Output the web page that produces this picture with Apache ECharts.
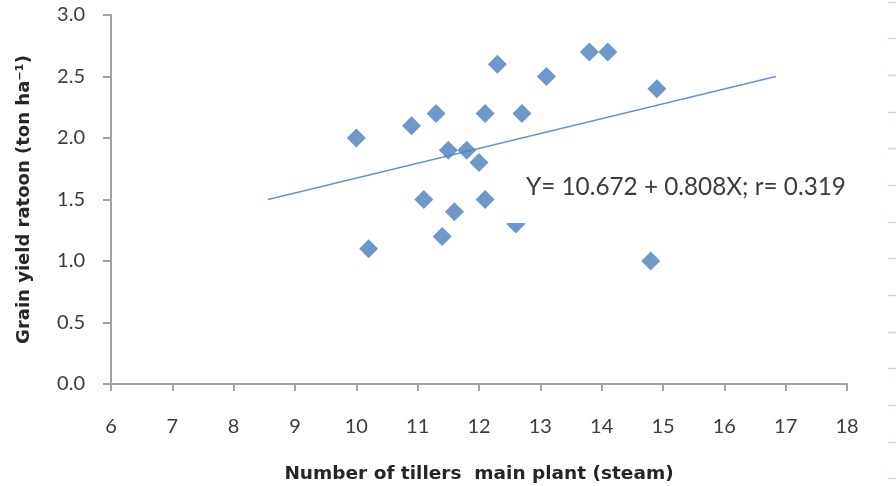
<!DOCTYPE html>
<html><head><meta charset="utf-8">
<script src="https://cdn.jsdelivr.net/npm/echarts@6/dist/echarts.min.js"></script>
<style>html,body{margin:0;padding:0;background:#fff}#c{width:896px;height:486px}</style>
</head><body><div id="c"></div>
<script>
// Data
const tillers    = [10.0, 10.2, 10.9, 11.3, 11.1, 11.5, 11.8, 11.6, 11.4, 12.0, 12.1, 12.1, 12.3, 12.6, 12.7, 13.1, 13.8, 14.1, 14.9, 14.8];
const grainYield = [2.0,  1.1,  2.1,  2.2,  1.5,  1.9,  1.9,  1.4,  1.2,  1.8,  2.2,  1.5,  2.6,  1.3,  2.2,  2.5,  2.7,  2.7,  2.4,  1.0];
const trendX = [8.56, 16.84];
const trendY = [1.5, 2.5];
const xTicks = [6, 18, 1];      // min, max, interval
const yTicks = [0, 3, 0.5];
const equationText = 'Y= 10.672 + 0.808X; r= 0.319';
const xAxisTitle = 'Number of tillers  main plant (steam)';
const yAxisTitle = 'Grain yield ratoon (ton ha\u207B\u00B9)';

const FONT = 'Lato, "Open Sans", sans-serif';
const TFONT = '"DejaVu Sans", "Open Sans", sans-serif';
const chart = echarts.init(document.getElementById('c'), null, {renderer: 'canvas'});

const pts = tillers.map((x, i) => [x, grainYield[i]]);
const trend = trendX.map((x, i) => [x, trendY[i]]);

const sideTicks = [];
for (let i = 0; i < 14; i++) {
  sideTicks.push({type: 'line', silent: true, z: 100,
    shape: {x1: 888, y1: 0, x2: 896, y2: 0},
    position: [0, Math.round(1.7 + 36.67 * i) + 0.5],
    style: {stroke: '#cdd4e3', lineWidth: 1.5}});
}

chart.setOption({
  animation: false,
  backgroundColor: '#ffffff',
  grid: {left: 111, right: 49, top: 15, bottom: 102, containLabel: false, outerBoundsMode: 'none'},
  xAxis: {
    type: 'value', min: xTicks[0], max: xTicks[1], interval: xTicks[2],
    name: xAxisTitle, nameLocation: 'middle', nameGap: 81,
    nameTextStyle: {fontFamily: TFONT, fontSize: 18.5, fontWeight: 'bold', color: '#262626'},
    axisLine: {show: true, onZero: false, lineStyle: {color: '#a3a3a3', width: 2}},
    axisTick: {show: true, inside: false, length: 7, lineStyle: {color: '#a3a3a3', width: 2}},
    axisLabel: {margin: 33, fontFamily: FONT, fontSize: 20, color: '#3c3c3c'},
    splitLine: {show: false}
  },
  yAxis: {
    type: 'value', min: yTicks[0], max: yTicks[1], interval: yTicks[2],
    name: yAxisTitle, nameLocation: 'middle', nameGap: 78, nameRotate: 90,
    nameTextStyle: {fontFamily: TFONT, fontSize: 18, fontWeight: 'bold', color: '#262626'},
    axisLine: {show: true, onZero: false, lineStyle: {color: '#a3a3a3', width: 2}},
    axisTick: {show: true, inside: false, length: 8, lineStyle: {color: '#a3a3a3', width: 2}},
    axisLabel: {margin: 26, fontFamily: FONT, fontSize: 20, color: '#3c3c3c',
      formatter: v => v.toFixed(1)},
    splitLine: {show: false}
  },
  series: [
    {type: 'line', data: trend, symbol: 'none', silent: true, z: 1,
     lineStyle: {color: '#6693cf', width: 1.3}},
    {type: 'scatter', data: pts, symbol: 'diamond', symbolSize: 19, z: 2,
     itemStyle: {color: '#4a7ebb'}}
  ],
  graphic: [
    {type: 'rect', silent: true, z: 100, left: 500, top: 165,
     shape: {width: 350, height: 58}, style: {fill: '#ffffff'}},
    {type: 'text', silent: true, z: 101, left: 526, top: 175,
     style: {text: equationText, fontFamily: FONT, fontSize: 24.3, fill: '#3c3c3c'}}
  ].concat(sideTicks)
});
</script></body></html>
